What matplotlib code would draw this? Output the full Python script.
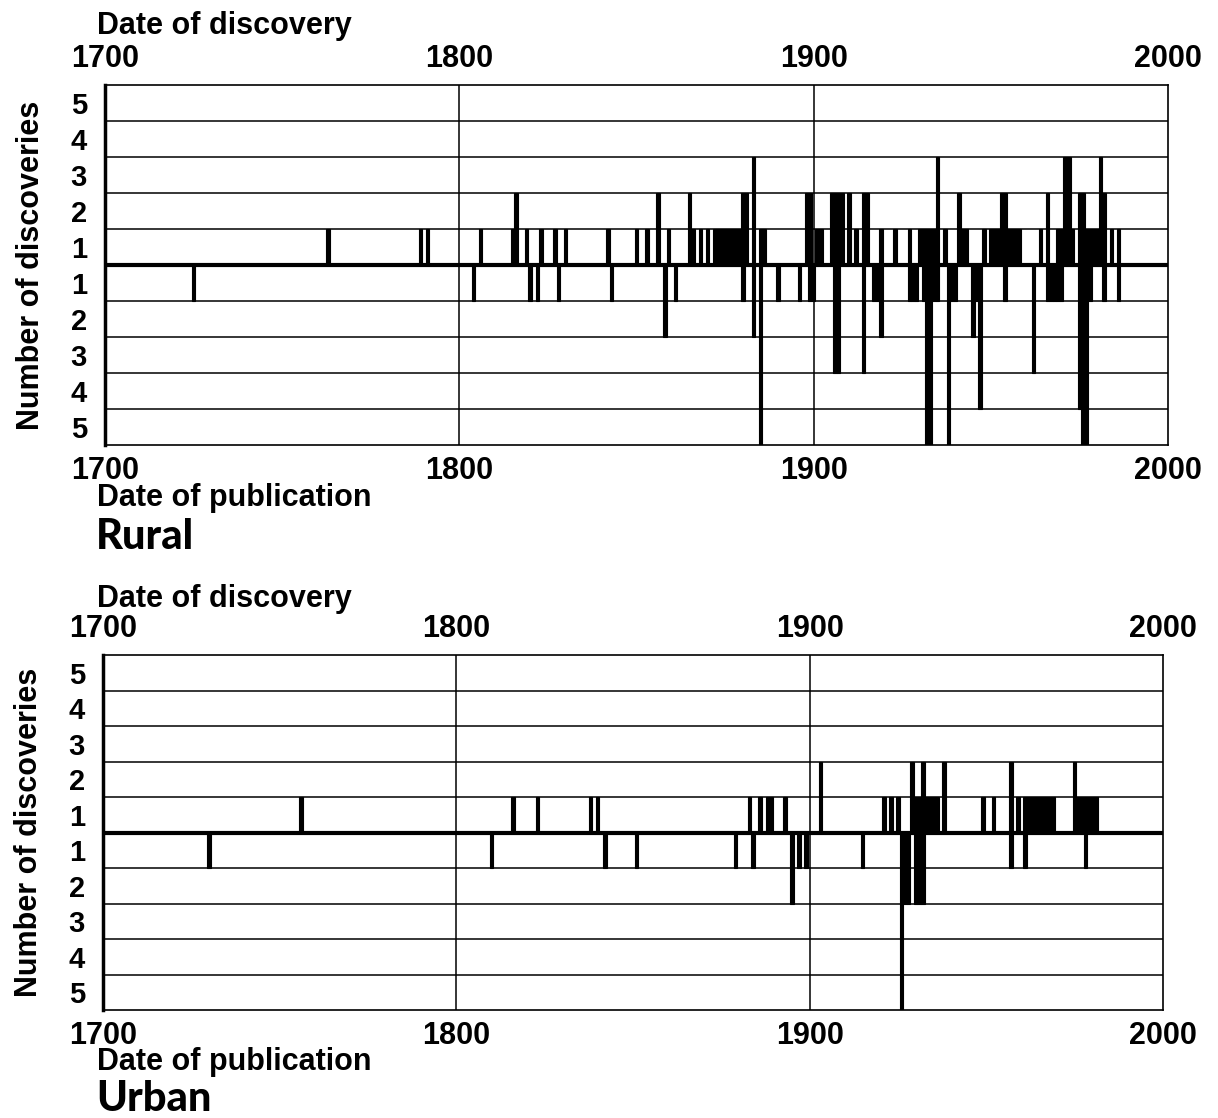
import matplotlib
matplotlib.use("Agg")
import matplotlib.pyplot as plt

plt.rcParams['font.family'] = ['Liberation Sans', 'DejaVu Sans']
plt.rcParams['font.weight'] = 'bold'

W, H = 1218, 1118

# ---------------- data ----------------
year_ticks = [1700, 1800, 1900, 2000]
level_labels = ['5', '4', '3', '2', '1', '1', '2', '3', '4', '5']
level_pos = [4.5, 3.5, 2.5, 1.5, 0.5, -0.5, -1.5, -2.5, -3.5, -4.5]

# Rural: discoveries (year, count)
rural_disc_years = [1763, 1789, 1791, 1806, 1815, 1816, 1819, 1823, 1827, 1830,
                    1842, 1850, 1853, 1856, 1859, 1865, 1866, 1868, 1870,
                    1872, 1873, 1874, 1875, 1876, 1877, 1878, 1879, 1880, 1881,
                    1883, 1885, 1886, 1898, 1899,
                    1901, 1902, 1905, 1906, 1907, 1908, 1910, 1912, 1914, 1915,
                    1919, 1923, 1927, 1930, 1931, 1932, 1933, 1934, 1935, 1937,
                    1941, 1942, 1943, 1948, 1950, 1951, 1952, 1953, 1954, 1955,
                    1956, 1957, 1958, 1964, 1966, 1969, 1970, 1971, 1972, 1973,
                    1975, 1976, 1977, 1978, 1979, 1980, 1981, 1982, 1984, 1986]
rural_disc_counts = [1, 1, 1, 1, 1, 2, 1, 1, 1, 1,
                     1, 1, 1, 2, 1, 2, 1, 1, 1,
                     1, 1, 1, 1, 1, 1, 1, 1, 2, 2,
                     3, 1, 1, 2, 2,
                     1, 1, 2, 2, 2, 2, 2, 1, 2, 2,
                     1, 1, 1, 1, 1, 1, 1, 1, 3, 1,
                     2, 1, 1, 1, 1, 1, 1, 2, 2, 1,
                     1, 1, 1, 1, 2, 1, 1, 3, 3, 1,
                     2, 2, 1, 1, 1, 1, 3, 2, 1, 1]

# Rural: publications (year, count)
rural_pub_years = [1725, 1804, 1820, 1822, 1828, 1843, 1858, 1861, 1880, 1883,
                   1885, 1890, 1896, 1899, 1900, 1906, 1907, 1914, 1917, 1918,
                   1919, 1927, 1928, 1929, 1931, 1932, 1933, 1934, 1935, 1938,
                   1939, 1940, 1945, 1946, 1947, 1954, 1962, 1966, 1967, 1968,
                   1969, 1970, 1975, 1976, 1977, 1978, 1982, 1986]
rural_pub_counts = [1, 1, 1, 1, 1, 1, 2, 1, 1, 2,
                    5, 1, 1, 1, 1, 3, 3, 3, 1, 1,
                    2, 1, 1, 1, 1, 5, 5, 1, 1, 5,
                    1, 1, 2, 1, 4, 1, 3, 1, 1, 1,
                    1, 1, 4, 5, 5, 1, 1, 1]

# Urban: discoveries (year, count)
urban_disc_years = [1756, 1816, 1823, 1838, 1840, 1883, 1886, 1888, 1889, 1893,
                    1903, 1921, 1923, 1925, 1929, 1930, 1931, 1932, 1933, 1934,
                    1935, 1936, 1938, 1949, 1952, 1957, 1959,
                    1961, 1962, 1963, 1964, 1965, 1966, 1967, 1968, 1969,
                    1975, 1976, 1977, 1978, 1979, 1980, 1981]
urban_disc_counts = [1, 1, 1, 1, 1, 1, 1, 1, 1, 1,
                     2, 1, 1, 1, 2, 1, 1, 2, 1, 1,
                     1, 1, 2, 1, 1, 2, 1,
                     1, 1, 1, 1, 1, 1, 1, 1, 1,
                     2, 1, 1, 1, 1, 1, 1]

# Urban: publications (year, count)
urban_pub_years = [1730, 1810, 1842, 1851, 1879, 1884, 1895, 1897, 1899, 1915,
                   1926, 1927, 1928, 1930, 1931, 1932, 1957, 1961, 1978]
urban_pub_counts = [1, 1, 1, 1, 1, 1, 2, 1, 1, 1,
                    5, 2, 2, 2, 2, 2, 1, 1, 1]

panels = [
    dict(name='Rural', disc=(rural_disc_years, rural_disc_counts),
         pub=(rural_pub_years, rural_pub_counts),
         box=(105, 85, 1168, 445), disc_lab=11, pub_lab=483, title=518),
    dict(name='Urban', disc=(urban_disc_years, urban_disc_counts),
         pub=(urban_pub_years, urban_pub_counts),
         box=(103, 655, 1163, 1010), disc_lab=584, pub_lab=1047, title=1080),
]

fig = plt.figure(figsize=(W / 100, H / 100), dpi=100)
fig.patch.set_facecolor('white')

for p in panels:
    x0, y0, x1, y1 = p['box']
    ax = fig.add_axes([x0 / W, 1 - y1 / H, (x1 - x0) / W, (y1 - y0) / H])
    ax.set_xlim(1700, 2000)
    ax.set_ylim(-5, 5)

    for lv in range(-4, 5):
        ax.axhline(lv, color='black', lw=3.0 if lv == 0 else 1.1, zorder=1)
    for xv in (1800, 1900):
        ax.axvline(xv, color='black', lw=1.1, zorder=1)

    dy, dc = p['disc']
    ax.bar(dy, dc, width=1.0, bottom=0, color='black', edgecolor='black',
           linewidth=0.8, zorder=3)
    py, pc = p['pub']
    ax.bar(py, [-c for c in pc], width=1.0, bottom=0, color='black',
           edgecolor='black', linewidth=0.8, zorder=3)

    for side, s in ax.spines.items():
        s.set_linewidth(1.2)
    ax.spines['left'].set_linewidth(2.5)

    ax.set_xticks(year_ticks)
    ax.set_xticklabels([str(t) for t in year_ticks])
    ax.tick_params(axis='x', which='both', length=0, labelsize=22, pad=8,
                   labeltop=True, labelbottom=True, top=False, bottom=False)
    for lab in ax.get_xticklabels():
        lab.set_fontweight('bold')
    ax.set_yticks(level_pos)
    ax.set_yticklabels(level_labels)
    ax.tick_params(axis='y', length=0, labelsize=21, pad=13)
    for lab in ax.get_yticklabels():
        lab.set_fontweight('bold')

    ax.set_ylabel('Number of discoveries', fontsize=22, fontweight='bold',
                  labelpad=18)

    fig.text(97 / W, 1 - p['disc_lab'] / H, 'Date of discovery', fontsize=22,
             fontweight='bold', va='top', ha='left')
    fig.text(97 / W, 1 - p['pub_lab'] / H, 'Date of publication', fontsize=22,
             fontweight='bold', va='top', ha='left')
    fig.text(96 / W, 1 - p['title'] / H, p['name'], fontsize=30,
             fontweight='black', va='top', ha='left',
             family=['Lato', 'Liberation Sans', 'DejaVu Sans'])

fig.savefig('out.png', dpi=100, facecolor='white')
